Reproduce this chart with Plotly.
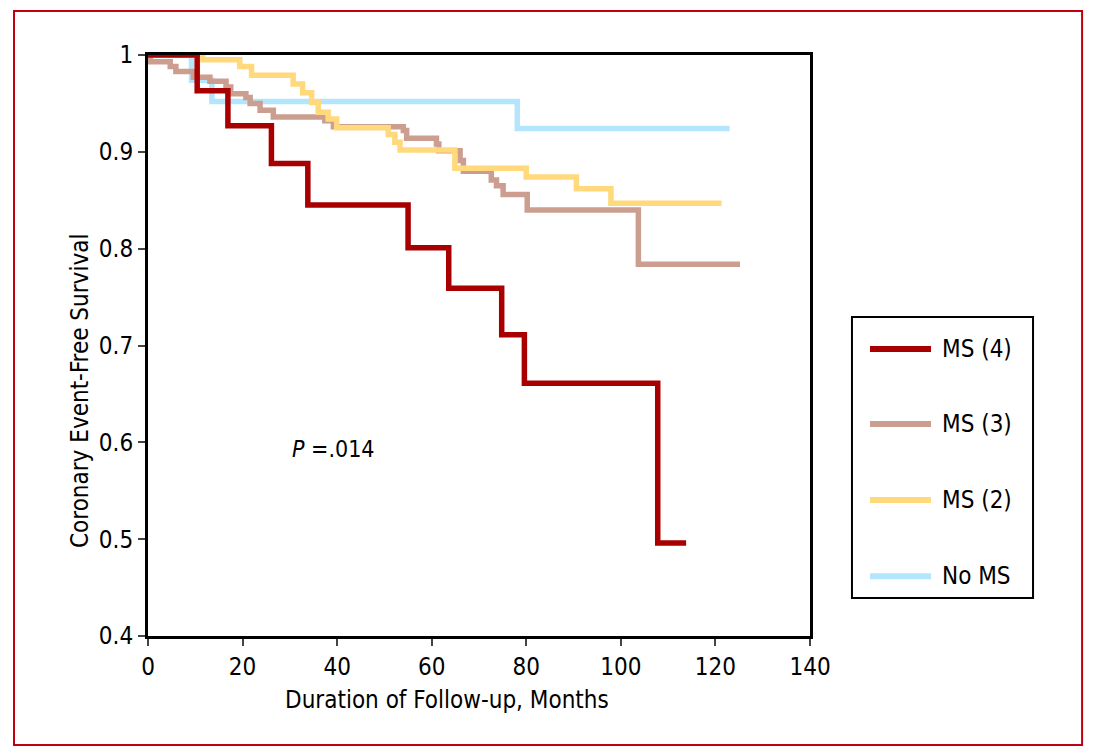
import plotly.graph_objects as go

# ---- data ----
ms4_t = [0, 10.4, 16.9, 26.1, 33.8, 55.0, 63.6, 74.8, 79.6, 107.8, 113.8]
ms4_s = [1.0, 0.963, 0.927, 0.888, 0.845, 0.801, 0.759, 0.711, 0.661, 0.496, 0.496]

ms3_t = [0, 0.5, 4.7, 5.9, 9.6, 13.1, 16.5, 17.5, 20.7, 21.6, 23.7, 26.5, 37.4, 39.2,
         54.0, 54.7, 61.0, 61.5, 66.0, 66.7, 72.6, 73.7, 75.1, 80.2, 103.7, 125.2]
ms3_s = [1.0, 0.993, 0.988, 0.983, 0.977, 0.973, 0.967, 0.960, 0.956, 0.950, 0.943, 0.936, 0.932, 0.926,
         0.922, 0.914, 0.908, 0.901, 0.891, 0.880, 0.871, 0.865, 0.856, 0.840, 0.784, 0.784]

ms2_t = [0, 11.6, 19.4, 21.9, 30.7, 32.7, 34.6, 36.0, 38.1, 39.9, 50.8, 52.2, 53.3,
         64.9, 80.0, 90.6, 97.9, 121.3]
ms2_s = [1.0, 0.995, 0.988, 0.979, 0.970, 0.961, 0.951, 0.941, 0.934, 0.925, 0.918, 0.910, 0.902,
         0.883, 0.874, 0.862, 0.847, 0.847]

noms_t = [0, 9.2, 13.5, 78.1, 123.0]
noms_s = [1.0, 0.974, 0.952, 0.924, 0.924]

series_names = ["MS (4)", "MS (3)", "MS (2)", "No MS"]
series_colors = ["#a80000", "#cc9e90", "#ffd97c", "#b3e5fc"]

x_ticks = [0, 20, 40, 60, 80, 100, 120, 140]
y_ticks = [0.4, 0.5, 0.6, 0.7, 0.8, 0.9, 1.0]
y_tick_text = ["0.4", "0.5", "0.6", "0.7", "0.8", "0.9", "1"]

x_title = "Duration of Follow-up, Months"
y_title = "Coronary Event-Free Survival"
p_text = "<i>P</i> =.014"

FONT = "DejaVu Sans Condensed, Liberation Sans Narrow, Arial Narrow, sans-serif"

series = [(ms4_t, ms4_s), (ms3_t, ms3_s), (ms2_t, ms2_s), (noms_t, noms_s)]

fig = go.Figure()
# draw order: No MS at bottom, MS(4) on top
for i in [3, 1, 2, 0]:
    t, s = series[i]
    fig.add_trace(go.Scatter(
        x=t, y=s, mode="lines", name=series_names[i],
        line=dict(color=series_colors[i], width=5.5, shape="hv"),
        showlegend=False, hoverinfo="skip"))

# manual legend
leg_y = [0.494, 0.365, 0.234, 0.103]
shapes = [
    dict(type="rect", xref="paper", yref="paper", x0=1.0634, x1=1.3369, y0=0.0654, y1=0.549,
         line=dict(color="black", width=2), fillcolor="white", layer="below"),
    dict(type="rect", xref="paper", yref="paper", x0=-0.2024, x1=1.411, y0=-0.1876, y1=1.0757,
         line=dict(color="#c0000e", width=2), layer="below"),
]
annotations = []
for name, col, yy in zip(series_names, series_colors, leg_y):
    shapes.append(dict(type="line", xref="paper", yref="paper", x0=1.0906, x1=1.1828, y0=yy, y1=yy,
                       line=dict(color=col, width=6)))
    annotations.append(dict(xref="paper", yref="paper", x=1.1964, y=yy, text=name, showarrow=False,
                            xanchor="left", yanchor="middle", font=dict(size=24, color="black", family=FONT)))

annotations.append(dict(x=30, y=0.593, xref="x", yref="y", text=p_text, showarrow=False,
                        xanchor="left", yanchor="middle", font=dict(size=23, color="black", family=FONT)))

# axis titles (offset from centre as in the reference)
annotations.append(dict(xref="paper", yref="paper", x=0.4517, y=-0.110, text=x_title, showarrow=False,
                        xanchor="center", yanchor="middle", font=dict(size=24, color="black", family=FONT)))
annotations.append(dict(xref="paper", yref="paper", x=-0.1027, y=0.4217, text=y_title, showarrow=False,
                        textangle=-90, xanchor="center", yanchor="middle",
                        font=dict(size=24, color="black", family=FONT)))

# page body has an 8px margin, so the figure is sized/offset to compensate
fig.update_layout(
    width=1087, height=748,
    margin=dict(l=140, r=285, t=47, b=120),
    paper_bgcolor="white", plot_bgcolor="white",
    font=dict(family=FONT, size=23, color="black"),
    shapes=shapes, annotations=annotations,
)
fig.update_xaxes(range=[0, 140], tickvals=x_ticks, ticks="outside", ticklen=7, tickwidth=2,
                 showline=True, linewidth=3, linecolor="black", mirror=True, showgrid=False, zeroline=False,
                 tickfont=dict(size=24, family=FONT))
fig.update_yaxes(range=[0.4, 1.0], tickvals=y_ticks, ticktext=y_tick_text, ticks="outside", ticklen=7, tickwidth=2,
                 showline=True, linewidth=3, linecolor="black", mirror=True, showgrid=False, zeroline=False,
                 tickfont=dict(size=24, family=FONT))

fig.write_html("out.html")
